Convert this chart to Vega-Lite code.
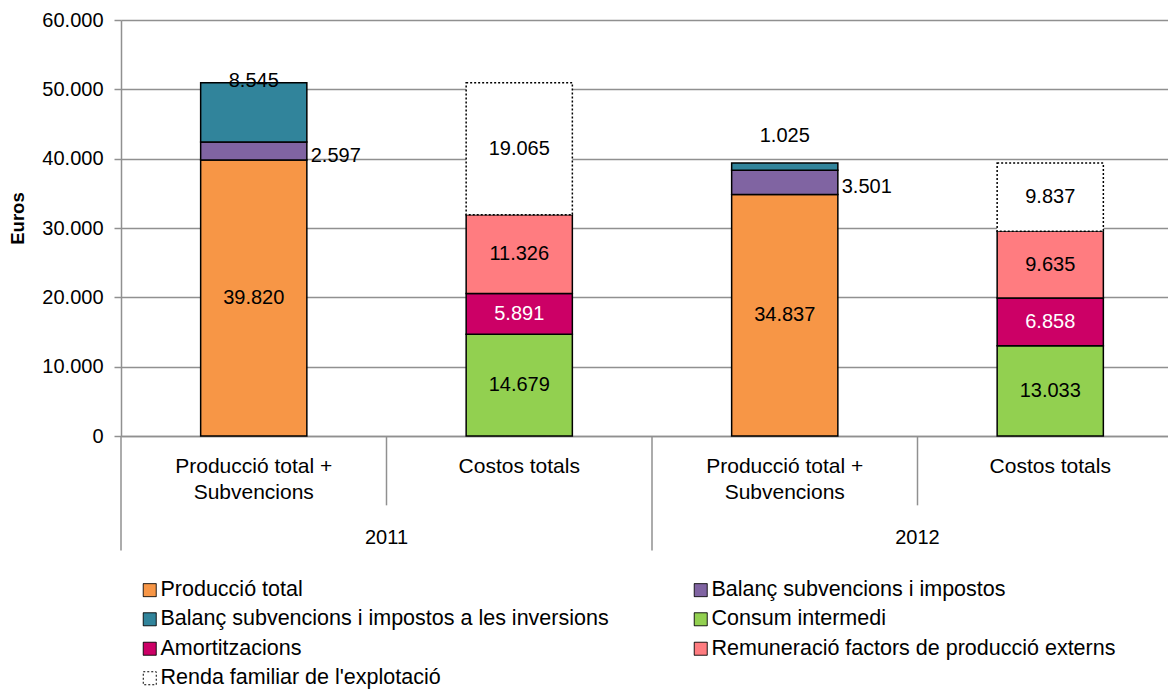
{
  "$schema": "https://vega.github.io/schema/vega-lite/v6.json",
  "padding": {"left": 8, "top": 10, "right": 0, "bottom": 0},
  "background": "white",
  "width": 1062,
  "height": 416,
  "config": {
    "locale": {"number": {"decimal": ",", "thousands": ".", "grouping": [3], "currency": ["", " €"]}},
    "font": "Liberation Sans",
    "view": {"stroke": null}
  },
  "data": {
    "values": [
      {"year": "2011", "cat": "Producció total + Subvencions", "bar": "2011|Producció total + Subvencions", "component": "Producció total", "value": 39820},
      {"year": "2011", "cat": "Producció total + Subvencions", "bar": "2011|Producció total + Subvencions", "component": "Balanç subvencions i impostos", "value": 2597},
      {"year": "2011", "cat": "Producció total + Subvencions", "bar": "2011|Producció total + Subvencions", "component": "Balanç subvencions i impostos a les inversions", "value": 8545},
      {"year": "2011", "cat": "Costos totals", "bar": "2011|Costos totals", "component": "Consum intermedi", "value": 14679},
      {"year": "2011", "cat": "Costos totals", "bar": "2011|Costos totals", "component": "Amortitzacions", "value": 5891},
      {"year": "2011", "cat": "Costos totals", "bar": "2011|Costos totals", "component": "Remuneració  factors de producció externs", "value": 11326},
      {"year": "2011", "cat": "Costos totals", "bar": "2011|Costos totals", "component": "Renda familiar de l'explotació", "value": 19065},
      {"year": "2012", "cat": "Producció total + Subvencions", "bar": "2012|Producció total + Subvencions", "component": "Producció total", "value": 34837},
      {"year": "2012", "cat": "Producció total + Subvencions", "bar": "2012|Producció total + Subvencions", "component": "Balanç subvencions i impostos", "value": 3501},
      {"year": "2012", "cat": "Producció total + Subvencions", "bar": "2012|Producció total + Subvencions", "component": "Balanç subvencions i impostos a les inversions", "value": 1025},
      {"year": "2012", "cat": "Costos totals", "bar": "2012|Costos totals", "component": "Consum intermedi", "value": 13033},
      {"year": "2012", "cat": "Costos totals", "bar": "2012|Costos totals", "component": "Amortitzacions", "value": 6858},
      {"year": "2012", "cat": "Costos totals", "bar": "2012|Costos totals", "component": "Remuneració  factors de producció externs", "value": 9635},
      {"year": "2012", "cat": "Costos totals", "bar": "2012|Costos totals", "component": "Renda familiar de l'explotació", "value": 9837}
    ]
  },
  "transform": [
    {"calculate": "indexof(['Producció total', 'Balanç subvencions i impostos', 'Balanç subvencions i impostos a les inversions', 'Consum intermedi', 'Amortitzacions', 'Remuneració  factors de producció externs', \"Renda familiar de l'explotació\"], datum.component)", "as": "ord"}
  ],
  "layer": [
    {
      "mark": {"type": "bar", "width": {"band": 0.4}, "stroke": "black", "strokeWidth": 1.5},
      "encoding": {
        "x": {
          "field": "bar", "type": "nominal",
          "sort": ["2011|Producció total + Subvencions", "2011|Costos totals", "2012|Producció total + Subvencions", "2012|Costos totals"],
          "scale": {"paddingInner": 0, "paddingOuter": 0},
          "axis": {
            "title": null, "ticks": false, "labelAngle": 0, "labelFontSize": 21, "labelColor": "black",
            "labelPadding": 19, "labelLineHeight": 26,
            "labelExpr": "indexof(datum.value, 'Producció') >= 0 ? ['Producció total +', 'Subvencions'] : 'Costos totals'",
            "domainColor": "#909090", "domainWidth": 1.5
          }
        },
        "y": {
          "field": "value", "type": "quantitative", "stack": "zero",
          "scale": {"domain": [0, 60000], "nice": false},
          "axis": {
            "title": "Euros", "titleFontSize": 18.5, "titleFontWeight": "bold", "titleColor": "black", "titlePadding": 14, "titleY": 198,
            "values": [0, 10000, 20000, 30000, 40000, 50000, 60000], "format": ",.0f",
            "labelFontSize": 20, "labelColor": "black", "labelPadding": 11,
            "tickSize": 7, "tickColor": "#909090", "tickWidth": 1.5,
            "domainColor": "#909090", "domainWidth": 1.5,
            "gridColor": "#909090", "gridWidth": 1.5
          }
        },
        "color": {
          "field": "component", "type": "nominal",
          "scale": {
            "domain": ["Producció total", "Balanç subvencions i impostos", "Balanç subvencions i impostos a les inversions", "Consum intermedi", "Amortitzacions", "Remuneració  factors de producció externs", "Renda familiar de l'explotació"],
            "range": ["#F79646", "#8064A2", "#31849B", "#92D050", "#CC0066", "#FF7C80", "#FFFFFF"]
          },
          "legend": {
            "title": null, "orient": "none", "legendX": 18, "legendY": 559, "columns": 2, "direction": "horizontal",
            "labelFontSize": 21.5, "labelColor": "black", "labelLimit": 700, "labelOffset": 0,
            "symbolType": "square", "symbolSize": 169, "symbolStrokeColor": "black", "symbolStrokeWidth": 1,
            "rowPadding": 6.5, "columnPadding": 81
          }
        },
        "strokeDash": {
          "field": "component", "type": "nominal",
          "scale": {
            "domain": ["Producció total", "Balanç subvencions i impostos", "Balanç subvencions i impostos a les inversions", "Consum intermedi", "Amortitzacions", "Remuneració  factors de producció externs", "Renda familiar de l'explotació"],
            "range": [[1, 0], [1, 0], [1, 0], [1, 0], [1, 0], [1, 0], [2, 2]]
          },
          "legend": null
        },
        "order": {"field": "ord", "type": "quantitative"}
      }
    },
    {
      "mark": {"type": "text", "fontSize": 20},
      "encoding": {
        "x": {"field": "bar", "type": "nominal", "sort": ["2011|Producció total + Subvencions", "2011|Costos totals", "2012|Producció total + Subvencions", "2012|Costos totals"]},
        "y": {"field": "value", "type": "quantitative", "stack": "zero", "bandPosition": 0.5},
        "detail": {"field": "component", "type": "nominal"},
        "order": {"field": "ord", "type": "quantitative"},
        "text": {
          "field": "value", "type": "quantitative", "format": ",.0f",
          "condition": {"test": "indexof(datum.component, 'Balanç') == 0", "value": ""}
        },
        "fill": {"condition": {"test": "datum.component == 'Amortitzacions'", "value": "white"}, "value": "black"}
      }
    },
    {
      "mark": {"type": "text", "fontSize": 20, "align": "left", "dx": 57, "dy": 5, "fill": "black"},
      "encoding": {
        "x": {"field": "bar", "type": "nominal", "sort": ["2011|Producció total + Subvencions", "2011|Costos totals", "2012|Producció total + Subvencions", "2012|Costos totals"]},
        "y": {"field": "value", "type": "quantitative", "stack": "zero", "bandPosition": 0.5},
        "detail": {"field": "component", "type": "nominal"},
        "order": {"field": "ord", "type": "quantitative"},
        "text": {
          "field": "value", "type": "quantitative", "format": ",.0f",
          "condition": {"test": "datum.component != 'Balanç subvencions i impostos'", "value": ""}
        }
      }
    },
    {
      "mark": {"type": "text", "fontSize": 20, "dy": -31, "fill": "black"},
      "encoding": {
        "x": {"field": "bar", "type": "nominal", "sort": ["2011|Producció total + Subvencions", "2011|Costos totals", "2012|Producció total + Subvencions", "2012|Costos totals"]},
        "y": {"field": "value", "type": "quantitative", "stack": "zero", "bandPosition": 0.5},
        "detail": {"field": "component", "type": "nominal"},
        "order": {"field": "ord", "type": "quantitative"},
        "text": {
          "field": "value", "type": "quantitative", "format": ",.0f",
          "condition": {"test": "datum.component != 'Balanç subvencions i impostos a les inversions'", "value": ""}
        }
      }
    },
    {
      "transform": [
        {"filter": "datum.cat == 'Producció total + Subvencions'"},
        {"aggregate": [{"op": "count", "as": "n"}], "groupby": ["bar"]}
      ],
      "mark": {"type": "rule", "color": "#909090", "strokeWidth": 1.5},
      "encoding": {
        "x": {"field": "bar", "type": "nominal", "sort": ["2011|Producció total + Subvencions", "2011|Costos totals", "2012|Producció total + Subvencions", "2012|Costos totals"], "bandPosition": 0},
        "y": {"datum": 0, "type": "quantitative"},
        "y2": {"datum": -16500}
      }
    },
    {
      "transform": [
        {"filter": "datum.cat == 'Costos totals'"},
        {"aggregate": [{"op": "count", "as": "n"}], "groupby": ["bar"]}
      ],
      "mark": {"type": "rule", "color": "#909090", "strokeWidth": 1.5},
      "encoding": {
        "x": {"field": "bar", "type": "nominal", "sort": ["2011|Producció total + Subvencions", "2011|Costos totals", "2012|Producció total + Subvencions", "2012|Costos totals"], "bandPosition": 0},
        "y": {"datum": 0, "type": "quantitative"},
        "y2": {"datum": -10000}
      }
    },
    {
      "transform": [
        {"filter": "datum.cat == 'Costos totals'"},
        {"aggregate": [{"op": "count", "as": "n"}], "groupby": ["bar", "year"]}
      ],
      "mark": {"type": "text", "fontSize": 20, "fill": "black"},
      "encoding": {
        "x": {"field": "bar", "type": "nominal", "sort": ["2011|Producció total + Subvencions", "2011|Costos totals", "2012|Producció total + Subvencions", "2012|Costos totals"], "bandPosition": 0},
        "y": {"datum": -14700, "type": "quantitative"},
        "text": {"field": "year", "type": "nominal"}
      }
    }
  ]
}
